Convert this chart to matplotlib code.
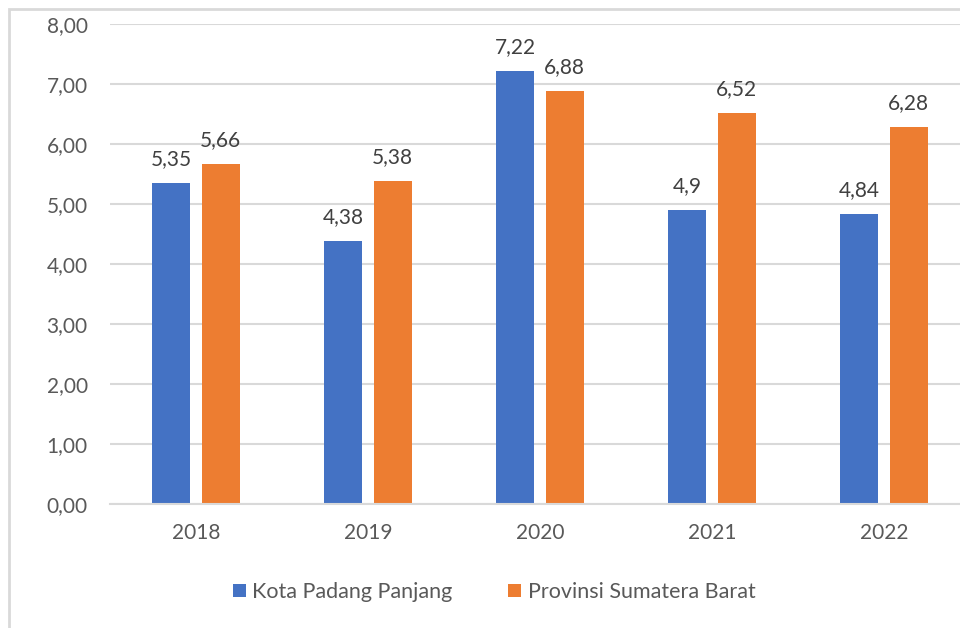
import numpy as np
import matplotlib.pyplot as plt
from matplotlib.patches import Rectangle

years = ["2018", "2019", "2020", "2021", "2022"]
padang_panjang = [5.35, 4.38, 7.22, 4.90, 4.84]
sumbar = [5.66, 5.38, 6.88, 6.52, 6.28]
padang_labels = ["5,35", "4,38", "7,22", "4,9", "4,84"]
sumbar_labels = ["5,66", "5,38", "6,88", "6,52", "6,28"]
yticks = [0, 1, 2, 3, 4, 5, 6, 7, 8]

plt.rcParams['font.family'] = ['Lato', 'DejaVu Sans']

fig = plt.figure(figsize=(9.6, 6.28), dpi=100)
W, H = 960, 628

# chart border (cut off at right and bottom)
fig.patches.append(Rectangle((9 / W, -0.1), 1.2, 1 - 9 / H + 0.1,
                             transform=fig.transFigure, fill=False,
                             edgecolor="#D9D9D9", linewidth=2))

ax = fig.add_axes([110 / W, 124 / H, 860 / W, 480 / H])

x = np.arange(len(years))
w = 0.22
blue = "#4472C4"
orange = "#ED7D31"
ax.bar(x - 0.143, padang_panjang, w, color=blue, label="Kota Padang Panjang")
ax.bar(x + 0.143, sumbar, w, color=orange, label="Provinsi Sumatera Barat")

for i in range(len(years)):
    ax.text(x[i] - 0.143, padang_panjang[i] + 0.3, padang_labels[i],
            ha="center", va="baseline", fontsize=15, color="#404040")
    ax.text(x[i] + 0.143, sumbar[i] + 0.3, sumbar_labels[i],
            ha="center", va="baseline", fontsize=15, color="#404040")

ax.set_xlim(-0.5, len(years) - 0.5)
ax.set_ylim(0, 8)
ax.set_yticks(yticks)
ax.set_yticklabels([f"{v},00" for v in yticks])
ax.set_xticks(x)
ax.set_xticklabels(years)
ax.tick_params(axis="both", length=0, labelsize=15, labelcolor="#595959")
ax.tick_params(axis="y", pad=16)
ax.tick_params(axis="x", pad=14)
ax.grid(axis="y", color="#D9D9D9", linewidth=1.5)
ax.set_axisbelow(True)
for s in ["top", "right", "left"]:
    ax.spines[s].set_visible(False)
ax.spines["bottom"].set_color("#D9D9D9")
ax.spines["bottom"].set_linewidth(1.5)

ax.legend(loc="center", bbox_to_anchor=(494 / W, 36 / H),
          bbox_transform=fig.transFigure, ncol=2, frameon=False,
          fontsize=15.5, labelcolor="#595959", handlelength=0.6,
          handleheight=0.6, handletextpad=0.3, columnspacing=2.6)

fig.savefig("out.png", dpi=100)
